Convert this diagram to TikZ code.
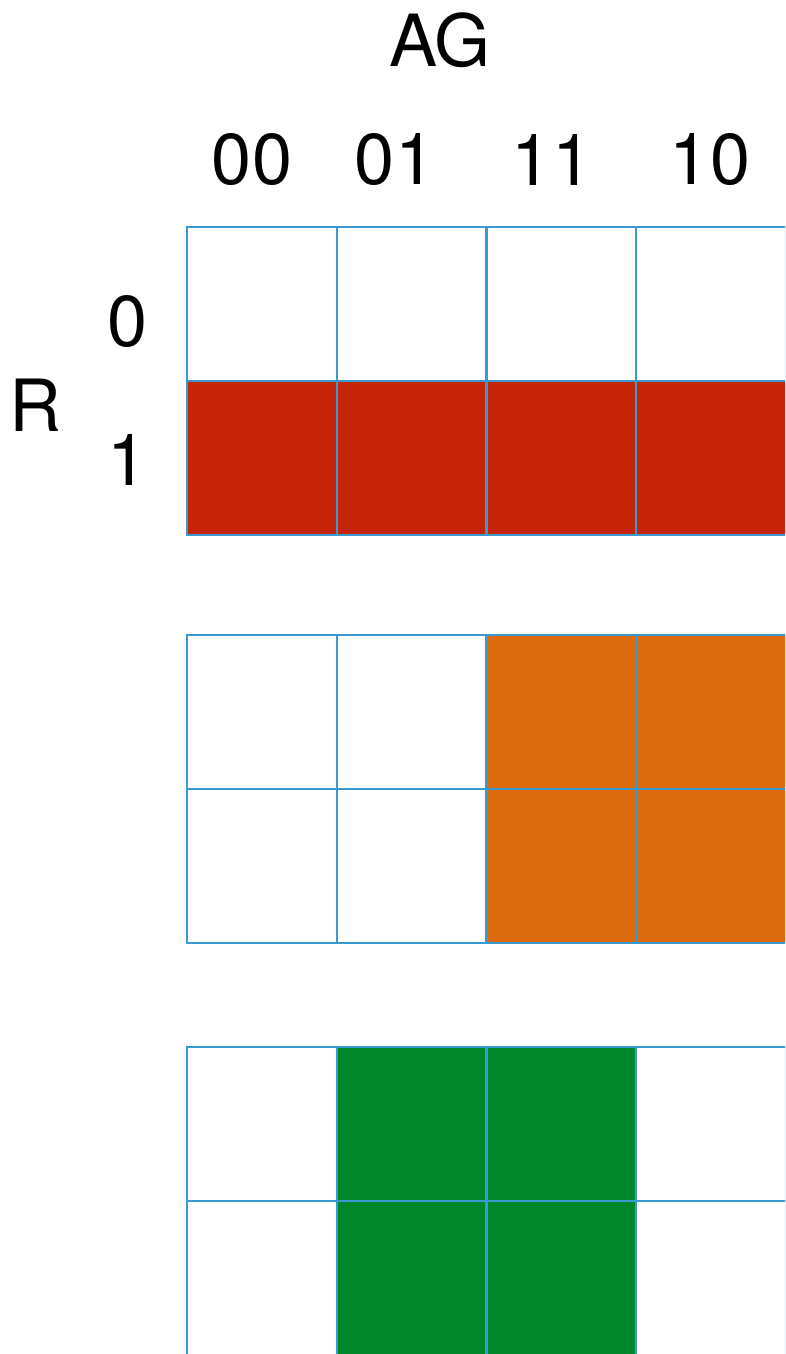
\documentclass[tikz,border=0pt]{standalone}
\usepackage{fontspec}
\setmainfont{TeX Gyre Heros}
\usetikzlibrary{positioning}
\definecolor{gridblue}{HTML}{3A9AD0}
\definecolor{mapred}{HTML}{C52406}
\definecolor{maporange}{HTML}{DC6A0F}
\definecolor{mapgreen}{HTML}{00872C}
\tikzset{
  lbl/.style={inner sep=0pt,font=\fontsize{72}{80}\selectfont},
  cell/.style={draw=gridblue,line width=2.2pt}
}
\begin{document}
\begin{tikzpicture}[x=1pt,y=-1pt]
  \useasboundingbox (0,0) rectangle (785,1354);
  \clip (0,0) rectangle (785,1354);
  \def\w{149.75}  % セル幅
  \def\h{154}     % セル高さ
  \def\xo{187}    % 左端
  % 見出し
  \node[lbl] (ag) at (440,40) {AG};
  \node[lbl] (c00) at (252,160) {00};
  \node[lbl] (c01) at (395,160) {01};
  \node[lbl] (c11) at (552,160) {11};
  \node[lbl] (c10) at (710,160) {10};
  \node[lbl] (r0) at (128,322) {0};
  \node[lbl] (r1) at (128,460) {1};
  \node[lbl] (rr) at (35,405) {R};
  % 塗り: R=1 の行
  \foreach \c in {0,...,3}
    \fill[mapred] ({\xo+\c*\w},{227+\h}) rectangle ++(\w,\h);
  % 塗り: A=1 の列
  \foreach \c in {2,3} \foreach \r in {0,1}
    \fill[maporange] ({\xo+\c*\w},{635+\r*\h}) rectangle ++(\w,\h);
  % 塗り: G=1 の列
  \foreach \c in {1,2} \foreach \r in {0,1}
    \fill[mapgreen] ({\xo+\c*\w},{1047+\r*\h}) rectangle ++(\w,\h);
  % 格子
  \foreach \top in {227,635,1047}
    \foreach \c in {0,...,3} \foreach \r in {0,1}
      \draw[cell] ({\xo+\c*\w},{\top+\r*\h}) rectangle ++(\w,\h);
\end{tikzpicture}
\end{document}
